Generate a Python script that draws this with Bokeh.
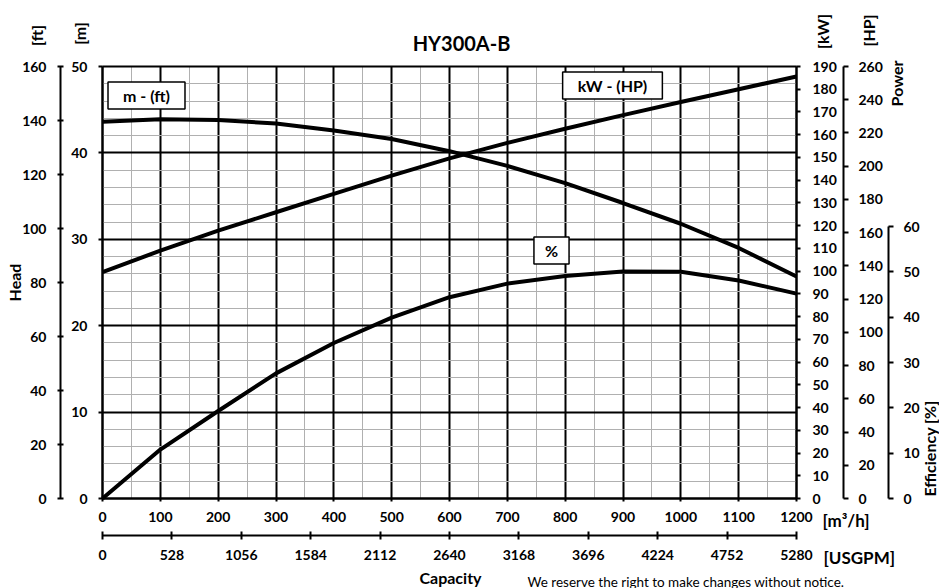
import numpy as np
from bokeh.plotting import figure
from bokeh.models import (LinearAxis, Range1d, SingleIntervalTicker, FixedTicker, Label, Grid)
from bokeh.embed import file_html
from bokeh.resources import INLINE

# ---------------- data ----------------
flow_m3h = [0, 100, 200, 300, 400, 500, 600, 700, 800, 900, 1000, 1100, 1200]
head_m = [43.6, 43.9, 43.8, 43.4, 42.6, 41.6, 40.2, 38.5, 36.5, 34.2, 31.8, 29.0, 25.7]
power_kw = [99.6, 109.0, 117.8, 125.9, 134.0, 142.0, 149.6, 156.4, 162.6, 168.6, 174.4, 180.0, 185.6]
efficiency_pct = [0.0, 10.8, 19.3, 27.6, 34.3, 39.9, 44.4, 47.4, 49.1, 50.1, 50.0, 48.1, 45.2]
usgpm_ticks = [0, 528, 1056, 1584, 2112, 2640, 3168, 3696, 4224, 4752, 5280]
title_text = "HY300A-B"

# axis spans (value at top of the chart area)
FLOW_MAX, HEAD_M_MAX, HEAD_FT_MAX = 1200, 50, 160
KW_MAX, HP_MAX, EFF_TOP, EFF_AXIS_MAX = 190, 260, 95.3, 60
GPM_MAX = 5280

FONT = "Lato"
W, H = 939, 588
FL, FR, FT, FB = 102, 796, 66, 498  # chart area edges on the page


def xr(wx, top=FLOW_MAX):
    return (wx - FL) * top / (FR - FL)


def yr(wy, top=HEAD_M_MAX):
    return (FB - wy) * top / (FB - FT)


# frame covers the whole canvas; ranges are extended so the chart area sits at FL..FR, FT..FB
p = figure(width=W, height=H,
           x_range=Range1d(xr(0), xr(W)), y_range=Range1d(yr(H), yr(0)),
           x_axis_location=None, y_axis_location=None,
           output_backend="svg", toolbar_location=None,
           min_border=0, min_border_left=0, min_border_right=0,
           min_border_top=0, min_border_bottom=0)
p.title.visible = False
p.outline_line_color = None
p.background_fill_color = "white"
p.border_fill_color = "white"
p.center = []

p.extra_y_ranges = {
    "ft": Range1d(yr(H, HEAD_FT_MAX), yr(0, HEAD_FT_MAX)),
    "kw": Range1d(yr(H, KW_MAX), yr(0, KW_MAX)),
    "hp": Range1d(yr(H, HP_MAX), yr(0, HP_MAX)),
    "eff": Range1d(yr(H, EFF_TOP), yr(0, EFF_TOP)),
}
p.extra_x_ranges = {"gpm": Range1d(xr(0, GPM_MAX), xr(W, GPM_MAX))}

# ---------------- grid ----------------
x_tick = SingleIntervalTicker(interval=100, num_minor_ticks=2)
y_tick = SingleIntervalTicker(interval=10, num_minor_ticks=5)
if "cross_bounds" in Grid.properties():
    for dim, tk, b, cb in ((0, x_tick, (0, FLOW_MAX), (0, HEAD_M_MAX)),
                           (1, y_tick, (0, HEAD_M_MAX), (0, FLOW_MAX))):
        g = Grid(dimension=dim, ticker=tk, bounds=b, cross_bounds=cb,
                 grid_line_color="black", grid_line_width=2,
                 minor_grid_line_color="#b0b0b0", minor_grid_line_width=1)
        p.add_layout(g)
else:
    xs_minor = [v + 50 for v in flow_m3h[:-1]]
    ys_major = list(range(0, HEAD_M_MAX + 1, 10))
    ys_minor = [v for v in range(0, HEAD_M_MAX + 1, 2) if v % 10]
    p.segment(xs_minor, 0, xs_minor, HEAD_M_MAX, color="#b0b0b0", line_width=1)
    p.segment(0, ys_minor, FLOW_MAX, ys_minor, color="#b0b0b0", line_width=1)
    p.segment(flow_m3h, 0, flow_m3h, HEAD_M_MAX, color="black", line_width=2)
    p.segment(0, ys_major, FLOW_MAX, ys_major, color="black", line_width=2)

# ---------------- curves ----------------
p.line(flow_m3h, head_m, line_width=4, color="black")
p.line(flow_m3h, power_kw, line_width=4, color="black", y_range_name="kw")
p.line(flow_m3h, efficiency_pct, line_width=4, color="black", y_range_name="eff")


# ---------------- axes ----------------
def axis(side, loc, ticker, bounds, tin, tout, standoff, **kw):
    ax = LinearAxis(ticker=ticker, bounds=bounds, fixed_location=loc, **kw)
    ax.axis_line_color = "black"
    ax.axis_line_width = 2
    ax.major_tick_line_color = "black"
    ax.major_tick_line_width = 2
    ax.major_tick_in = tin
    ax.major_tick_out = tout
    ax.minor_tick_line_color = None
    ax.major_label_text_font = FONT
    ax.major_label_text_font_style = "bold"
    ax.major_label_text_font_size = "14px"
    ax.major_label_text_color = "black"
    ax.major_label_standoff = standoff
    p.add_layout(ax, side)
    return ax


axis("left", 0, SingleIntervalTicker(interval=10), (0, HEAD_M_MAX), 0, 4, 11)
axis("left", xr(60), SingleIntervalTicker(interval=20), (0, HEAD_FT_MAX), 3, 3, 10,
     y_range_name="ft")
axis("right", FLOW_MAX, SingleIntervalTicker(interval=10), (0, KW_MAX), 0, 4, 12,
     y_range_name="kw")
axis("right", xr(843), SingleIntervalTicker(interval=20), (0, HP_MAX), 0, 5, 10,
     y_range_name="hp")
axis("right", xr(888), SingleIntervalTicker(interval=10), (0, EFF_AXIS_MAX), 0, 5, 10,
     y_range_name="eff")
axis("below", 0, SingleIntervalTicker(interval=100), (0, FLOW_MAX), 0, 3, 9)
axis("below", yr(535), FixedTicker(ticks=usgpm_ticks), (0, GPM_MAX), 4, 4, 10,
     x_range_name="gpm")


# ---------------- texts ----------------
def lab(wx, wy, text, size="16px", style_="bold", align="center", angle=0.0, **kw):
    p.add_layout(Label(x=xr(wx), y=yr(wy), text=text, text_font=FONT, text_font_size=size,
                       text_font_style=style_, text_align=align, text_baseline="middle",
                       angle=angle, text_color="black", **kw))


rot = np.pi / 2
lab(461, 42, title_text, size="20px")
lab(36, 35, "[ft]", angle=rot)
lab(79, 33, "[m]", angle=rot)
lab(14, 282, "Head", angle=rot)
lab(822, 31, "[kW]", angle=rot)
lab(868, 30, "[HP]", angle=rot)
lab(896, 83, "Power", angle=rot)
lab(929, 448, "Efficiency [%]", angle=rot)
lab(822, 520, "[m\u00b3/h]", align="left", size="17px")
lab(823, 557, "[USGPM]", align="left", size="17px")
lab(450, 577, "Capacity")
lab(527, 581, "We reserve the right to make changes without notice.", size="13.5px",
    style_="normal", align="left")

box = dict(border_line_color="black", border_line_width=1.5, background_fill_color="white")
lab(146, 95, "m - (ft)", padding=(15, 4), **box)
lab(612, 85, "kW - (HP)", padding=(15, 4), **box)
lab(551, 250, "%", padding=(11, 4), **box)

open("out.html", "w").write(file_html(p, INLINE))
